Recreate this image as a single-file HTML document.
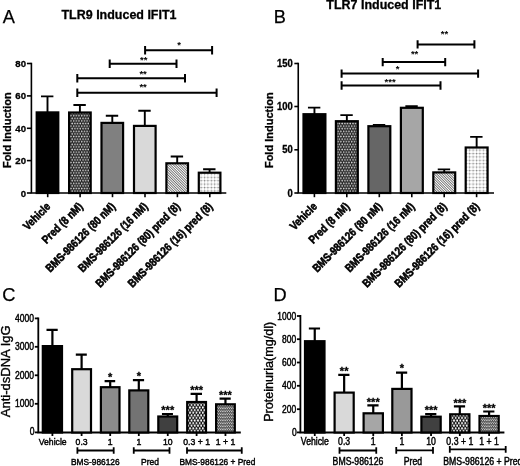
<!DOCTYPE html>
<html><head><meta charset="utf-8"><title>Figure</title>
<style>html,body{margin:0;padding:0;background:#fff}svg{display:block;filter:blur(0.45px)}text{font-family:"Liberation Sans", sans-serif;fill:#000}</style>
</head><body>
<svg width="520" height="466" viewBox="0 0 520 466">
<rect width="520" height="466" fill="#fff"/>
<defs>
<pattern id="pDots" width="2.7" height="5.2" patternUnits="userSpaceOnUse">
 <rect width="2.7" height="5.2" fill="#202020"/>
 <circle cx="0.675" cy="1.3" r="0.92" fill="#d8d8d8"/><circle cx="2.025" cy="3.9" r="0.92" fill="#d8d8d8"/>
</pattern>
<pattern id="pHatch" width="1.8" height="1.8" patternUnits="userSpaceOnUse" patternTransform="rotate(-45)">
 <rect width="1.8" height="1.8" fill="#fff"/><rect width="0.6" height="1.8" fill="#2a2a2a"/>
</pattern>
<pattern id="pGrid" width="3.4" height="3.4" patternUnits="userSpaceOnUse">
 <rect width="3.4" height="3.4" fill="#fff"/><rect width="3.4" height="0.9" fill="#dcdcdc"/><rect width="0.9" height="3.4" fill="#dcdcdc"/><rect x="-0.2" y="-0.2" width="1.3" height="1.3" fill="#808080"/>
</pattern>
<pattern id="pDiam" width="3.2" height="5.2" patternUnits="userSpaceOnUse" x="0.4" y="0.6">
 <rect width="3.2" height="5.2" fill="#0c0c0c"/>
 <circle cx="0.8" cy="1.3" r="1.08" fill="#fff"/><circle cx="2.4" cy="3.9" r="1.08" fill="#fff"/>
</pattern>
<pattern id="pFine" width="2.2" height="3" patternUnits="userSpaceOnUse">
 <rect width="2.2" height="3" fill="#3c3c3c"/>
 <rect x="0" y="0.25" width="1.4" height="0.85" fill="#f0f0f0"/><rect x="1.1" y="1.75" width="1.4" height="0.85" fill="#f0f0f0"/><rect x="-1.1" y="1.75" width="1.4" height="0.85" fill="#f0f0f0"/>
</pattern>
</defs>

<text x="2.70" y="23.20" font-size="18.2" font-weight="normal" text-anchor="start" stroke="#000" stroke-width="0.25">A</text>
<text x="61.50" y="18.90" font-size="12.5" font-weight="bold" text-anchor="start" textLength="115.0" lengthAdjust="spacingAndGlyphs" stroke="#000" stroke-width="0.3">TLR9 Induced IFIT1</text>
<path d="M31.40 62.70V193.00H226.30" stroke="#000" stroke-width="1.6" fill="none" stroke-linejoin="miter"/>
<path d="M26.90 63.50H31.40" stroke="#000" stroke-width="1.6"/>
<text transform="translate(26.00 66.81) rotate(0) scale(1.0 1)" font-size="9.6" font-weight="bold" text-anchor="end" stroke="#000" stroke-width="0.3">80</text>
<path d="M26.90 95.90H31.40" stroke="#000" stroke-width="1.6"/>
<text transform="translate(26.00 99.21) rotate(0) scale(1.0 1)" font-size="9.6" font-weight="bold" text-anchor="end" stroke="#000" stroke-width="0.3">60</text>
<path d="M26.90 128.30H31.40" stroke="#000" stroke-width="1.6"/>
<text transform="translate(26.00 131.61) rotate(0) scale(1.0 1)" font-size="9.6" font-weight="bold" text-anchor="end" stroke="#000" stroke-width="0.3">40</text>
<path d="M26.90 160.60H31.40" stroke="#000" stroke-width="1.6"/>
<text transform="translate(26.00 163.91) rotate(0) scale(1.0 1)" font-size="9.6" font-weight="bold" text-anchor="end" stroke="#000" stroke-width="0.3">20</text>
<path d="M26.90 193.00H31.40" stroke="#000" stroke-width="1.6"/>
<text transform="translate(26.00 196.61) rotate(0) scale(1.0 1)" font-size="9.6" font-weight="bold" text-anchor="end" stroke="#000" stroke-width="0.3">0</text>
<text transform="translate(11.00 130.20) rotate(-90) scale(1.0 1)" font-size="11" font-weight="bold" text-anchor="middle" stroke="#000" stroke-width="0.3">Fold Induction</text>
<path d="M47.50 112.30V96.40M41.00 96.40H53.40" stroke="#000" stroke-width="1.9" fill="none"/>
<rect x="36.70" y="112.40" width="21.60" height="80.60" fill="#000" stroke="#000" stroke-width="2.2"/>
<path d="M47.70 193.00V197.20" stroke="#000" stroke-width="1.6"/>
<text transform="translate(51.10 207.30) rotate(-45) scale(0.835 1)" font-size="11.5" font-weight="bold" text-anchor="end" stroke="#000" stroke-width="0.6">Vehicle</text>
<path d="M79.90 112.40V105.00M73.40 105.00H85.80" stroke="#000" stroke-width="1.9" fill="none"/>
<rect x="69.10" y="112.50" width="21.60" height="80.50" fill="url(#pDots)" stroke="#000" stroke-width="2.2"/>
<path d="M80.10 193.00V197.20" stroke="#000" stroke-width="1.6"/>
<text transform="translate(83.50 207.30) rotate(-45) scale(0.835 1)" font-size="11.5" font-weight="bold" text-anchor="end" stroke="#000" stroke-width="0.6">Pred (8 nM)</text>
<path d="M112.30 122.80V115.70M105.80 115.70H118.20" stroke="#000" stroke-width="1.9" fill="none"/>
<rect x="101.50" y="122.90" width="21.60" height="70.10" fill="#808080" stroke="#000" stroke-width="2.2"/>
<path d="M112.50 193.00V197.20" stroke="#000" stroke-width="1.6"/>
<text transform="translate(115.90 207.30) rotate(-45) scale(0.835 1)" font-size="11.5" font-weight="bold" text-anchor="end" stroke="#000" stroke-width="0.6">BMS-986126 (80 nM)</text>
<path d="M144.80 125.80V110.80M138.30 110.80H150.70" stroke="#000" stroke-width="1.9" fill="none"/>
<rect x="134.00" y="125.90" width="21.60" height="67.10" fill="#d9d9d9" stroke="#000" stroke-width="2.2"/>
<path d="M145.00 193.00V197.20" stroke="#000" stroke-width="1.6"/>
<text transform="translate(148.40 207.30) rotate(-45) scale(0.835 1)" font-size="11.5" font-weight="bold" text-anchor="end" stroke="#000" stroke-width="0.6">BMS-986126 (16 nM)</text>
<path d="M177.20 163.20V156.50M170.70 156.50H183.10" stroke="#000" stroke-width="1.9" fill="none"/>
<rect x="166.40" y="163.30" width="21.60" height="29.70" fill="url(#pHatch)" stroke="#000" stroke-width="2.2"/>
<path d="M177.40 193.00V197.20" stroke="#000" stroke-width="1.6"/>
<text transform="translate(180.80 207.30) rotate(-45) scale(0.835 1)" font-size="11.5" font-weight="bold" text-anchor="end" stroke="#000" stroke-width="0.6">BMS-986126 (80) pred (8)</text>
<path d="M209.60 172.60V169.20M203.10 169.20H215.50" stroke="#000" stroke-width="1.9" fill="none"/>
<rect x="198.80" y="172.70" width="21.60" height="20.30" fill="url(#pGrid)" stroke="#000" stroke-width="2.2"/>
<path d="M209.80 193.00V197.20" stroke="#000" stroke-width="1.6"/>
<text transform="translate(213.20 207.30) rotate(-45) scale(0.835 1)" font-size="11.5" font-weight="bold" text-anchor="end" stroke="#000" stroke-width="0.6">BMS-986126 (16) pred (8)</text>
<path d="M145.10 50.20H212.10M145.10 46.00V54.40M212.10 46.00V54.40" stroke="#000" stroke-width="2.0" fill="none"/>
<text x="179.00" y="48.24" font-size="9.5" font-weight="bold" text-anchor="middle" >*</text>
<path d="M109.70 63.70H176.50M109.70 59.50V67.90M176.50 59.50V67.90" stroke="#000" stroke-width="2.0" fill="none"/>
<text x="143.70" y="63.24" font-size="9.5" font-weight="bold" text-anchor="middle" >**</text>
<path d="M77.30 78.20H185.00M77.30 74.00V82.40M185.00 74.00V82.40" stroke="#000" stroke-width="2.0" fill="none"/>
<text x="143.10" y="76.75" font-size="9.5" font-weight="bold" text-anchor="middle" >**</text>
<path d="M77.30 92.70H216.60M77.30 88.50V96.90M216.60 88.50V96.90" stroke="#000" stroke-width="2.0" fill="none"/>
<text x="143.10" y="90.34" font-size="9.5" font-weight="bold" text-anchor="middle" >**</text>
<text x="273.70" y="23.20" font-size="18.2" font-weight="normal" text-anchor="start" stroke="#000" stroke-width="0.25">B</text>
<text x="326.30" y="9.20" font-size="12.5" font-weight="bold" text-anchor="start" textLength="115.0" lengthAdjust="spacingAndGlyphs" stroke="#000" stroke-width="0.3">TLR7 Induced IFIT1</text>
<path d="M298.25 62.70V193.00H494.00" stroke="#000" stroke-width="1.6" fill="none" stroke-linejoin="miter"/>
<path d="M294.35 63.50H298.25" stroke="#000" stroke-width="1.6"/>
<text transform="translate(292.85 66.60) rotate(0) scale(0.945 1)" font-size="10" font-weight="bold" text-anchor="end" stroke="#000" stroke-width="0.3">150</text>
<path d="M294.35 106.50H298.25" stroke="#000" stroke-width="1.6"/>
<text transform="translate(292.85 109.60) rotate(0) scale(0.945 1)" font-size="10" font-weight="bold" text-anchor="end" stroke="#000" stroke-width="0.3">100</text>
<path d="M294.35 149.80H298.25" stroke="#000" stroke-width="1.6"/>
<text transform="translate(292.85 152.90) rotate(0) scale(0.945 1)" font-size="10" font-weight="bold" text-anchor="end" stroke="#000" stroke-width="0.3">50</text>
<path d="M294.35 193.00H298.25" stroke="#000" stroke-width="1.6"/>
<text transform="translate(292.85 197.00) rotate(0) scale(0.945 1)" font-size="10" font-weight="bold" text-anchor="end" stroke="#000" stroke-width="0.3">0</text>
<text transform="translate(272.50 130.20) rotate(-90) scale(1.0 1)" font-size="11" font-weight="bold" text-anchor="middle" stroke="#000" stroke-width="0.3">Fold Induction</text>
<path d="M314.45 114.10V107.60M307.95 107.60H320.35" stroke="#000" stroke-width="1.9" fill="none"/>
<rect x="303.50" y="114.20" width="21.90" height="78.80" fill="#000" stroke="#000" stroke-width="2.2"/>
<path d="M314.40 193.00V197.20" stroke="#000" stroke-width="1.6"/>
<text transform="translate(317.80 207.30) rotate(-45) scale(0.835 1)" font-size="11.5" font-weight="bold" text-anchor="end" stroke="#000" stroke-width="0.6">Vehicle</text>
<path d="M346.85 121.10V115.10M340.35 115.10H352.75" stroke="#000" stroke-width="1.9" fill="none"/>
<rect x="335.90" y="121.20" width="21.90" height="71.80" fill="url(#pDots)" stroke="#000" stroke-width="2.2"/>
<path d="M346.80 193.00V197.20" stroke="#000" stroke-width="1.6"/>
<text transform="translate(350.20 207.30) rotate(-45) scale(0.835 1)" font-size="11.5" font-weight="bold" text-anchor="end" stroke="#000" stroke-width="0.6">Pred (8 nM)</text>
<path d="M379.35 126.10V124.90M372.85 124.90H385.25" stroke="#000" stroke-width="1.9" fill="none"/>
<rect x="368.40" y="126.20" width="21.90" height="66.80" fill="#666" stroke="#000" stroke-width="2.2"/>
<path d="M379.30 193.00V197.20" stroke="#000" stroke-width="1.6"/>
<text transform="translate(382.70 207.30) rotate(-45) scale(0.835 1)" font-size="11.5" font-weight="bold" text-anchor="end" stroke="#000" stroke-width="0.6">BMS-986126 (80 nM)</text>
<path d="M411.85 107.70V106.20M405.35 106.20H417.75" stroke="#000" stroke-width="1.9" fill="none"/>
<rect x="400.90" y="107.80" width="21.90" height="85.20" fill="#a6a6a6" stroke="#000" stroke-width="2.2"/>
<path d="M411.80 193.00V197.20" stroke="#000" stroke-width="1.6"/>
<text transform="translate(415.20 207.30) rotate(-45) scale(0.835 1)" font-size="11.5" font-weight="bold" text-anchor="end" stroke="#000" stroke-width="0.6">BMS-986126 (16 nM)</text>
<path d="M444.25 172.30V169.40M437.75 169.40H450.15" stroke="#000" stroke-width="1.9" fill="none"/>
<rect x="433.30" y="172.40" width="21.90" height="20.60" fill="url(#pHatch)" stroke="#000" stroke-width="2.2"/>
<path d="M444.20 193.00V197.20" stroke="#000" stroke-width="1.6"/>
<text transform="translate(447.60 207.30) rotate(-45) scale(0.835 1)" font-size="11.5" font-weight="bold" text-anchor="end" stroke="#000" stroke-width="0.6">BMS-986126 (80) pred (8)</text>
<path d="M476.65 147.40V136.90M470.15 136.90H482.55" stroke="#000" stroke-width="1.9" fill="none"/>
<rect x="465.70" y="147.50" width="21.90" height="45.50" fill="url(#pGrid)" stroke="#000" stroke-width="2.2"/>
<path d="M476.60 193.00V197.20" stroke="#000" stroke-width="1.6"/>
<text transform="translate(480.00 207.30) rotate(-45) scale(0.835 1)" font-size="11.5" font-weight="bold" text-anchor="end" stroke="#000" stroke-width="0.6">BMS-986126 (16) pred (8)</text>
<path d="M417.60 44.40H474.40M417.60 40.20V48.60M474.40 40.20V48.60" stroke="#000" stroke-width="2.0" fill="none"/>
<text x="444.50" y="37.45" font-size="9.5" font-weight="bold" text-anchor="middle" >**</text>
<path d="M382.70 62.10H445.20M382.70 57.90V66.30M445.20 57.90V66.30" stroke="#000" stroke-width="2.0" fill="none"/>
<text x="414.60" y="57.24" font-size="9.5" font-weight="bold" text-anchor="middle" >**</text>
<path d="M341.60 73.60H478.10M341.60 69.40V77.80M478.10 69.40V77.80" stroke="#000" stroke-width="2.0" fill="none"/>
<text x="397.60" y="71.84" font-size="9.5" font-weight="bold" text-anchor="middle" >*</text>
<path d="M341.60 85.50H440.50M341.60 81.30V89.70M440.50 81.30V89.70" stroke="#000" stroke-width="2.0" fill="none"/>
<text x="390.10" y="84.75" font-size="9.5" font-weight="bold" text-anchor="middle" >***</text>
<text x="2.20" y="301.20" font-size="18.2" font-weight="normal" text-anchor="start" stroke="#000" stroke-width="0.25">C</text>
<path d="M38.30 317.50V432.50H240.80" stroke="#000" stroke-width="1.8" fill="none" stroke-linejoin="miter"/>
<path d="M34.80 318.40H38.30" stroke="#000" stroke-width="1.8"/>
<text transform="translate(34.00 321.97) rotate(0) scale(0.84 1)" font-size="10.2" font-weight="normal" text-anchor="end" stroke="#000" stroke-width="0.45">4000</text>
<path d="M34.80 346.80H38.30" stroke="#000" stroke-width="1.8"/>
<text transform="translate(34.00 350.37) rotate(0) scale(0.84 1)" font-size="10.2" font-weight="normal" text-anchor="end" stroke="#000" stroke-width="0.45">3000</text>
<path d="M34.80 375.30H38.30" stroke="#000" stroke-width="1.8"/>
<text transform="translate(34.00 378.87) rotate(0) scale(0.84 1)" font-size="10.2" font-weight="normal" text-anchor="end" stroke="#000" stroke-width="0.45">2000</text>
<path d="M34.80 403.80H38.30" stroke="#000" stroke-width="1.8"/>
<text transform="translate(34.00 407.37) rotate(0) scale(0.84 1)" font-size="10.2" font-weight="normal" text-anchor="end" stroke="#000" stroke-width="0.45">1000</text>
<path d="M34.80 432.40H38.30" stroke="#000" stroke-width="1.8"/>
<text transform="translate(34.40 435.37) rotate(0) scale(0.84 1)" font-size="10.2" font-weight="normal" text-anchor="end" stroke="#000" stroke-width="0.45">0</text>
<text transform="translate(10.20 371.30) rotate(-90) scale(1.0 1)" font-size="12" font-weight="normal" text-anchor="middle" textLength="92" lengthAdjust="spacingAndGlyphs" stroke="#000" stroke-width="0.35">Anti-dsDNA IgG</text>
<path d="M52.40 346.00V329.90M46.50 329.90H57.70" stroke="#000" stroke-width="2.2" fill="none"/>
<rect x="42.80" y="346.10" width="19.20" height="86.40" fill="#000" stroke="#000" stroke-width="2.2"/>
<path d="M52.40 432.50V436.00" stroke="#000" stroke-width="1.8"/>
<text transform="translate(52.70 444.60) rotate(0) scale(0.885 1)" font-size="9.8" font-weight="normal" text-anchor="middle" stroke="#000" stroke-width="0.45">Vehicle</text>
<path d="M81.60 369.10V354.70M75.80 354.70H86.80" stroke="#000" stroke-width="2.2" fill="none"/>
<rect x="72.20" y="369.20" width="18.80" height="63.30" fill="#d9d9d9" stroke="#000" stroke-width="2.2"/>
<path d="M81.60 432.50V436.00" stroke="#000" stroke-width="1.8"/>
<text transform="translate(81.60 444.60) rotate(0) scale(0.885 1)" font-size="9.8" font-weight="normal" text-anchor="middle" stroke="#000" stroke-width="0.45">0.3</text>
<path d="M110.20 387.10V381.20M104.60 381.20H115.20" stroke="#000" stroke-width="2.2" fill="none"/>
<rect x="100.90" y="387.20" width="18.60" height="45.30" fill="#8c8c8c" stroke="#000" stroke-width="2.2"/>
<path d="M110.20 432.50V436.00" stroke="#000" stroke-width="1.8"/>
<text transform="translate(110.20 444.60) rotate(0) scale(0.885 1)" font-size="9.8" font-weight="normal" text-anchor="middle" stroke="#000" stroke-width="0.45">1</text>
<text x="110.20" y="381.01" font-size="11" font-weight="bold" text-anchor="middle" stroke="#000" stroke-width="0.3">*</text>
<path d="M138.80 390.30V380.20M132.90 380.20H144.10" stroke="#000" stroke-width="2.2" fill="none"/>
<rect x="129.30" y="390.40" width="19.00" height="42.10" fill="#737373" stroke="#000" stroke-width="2.2"/>
<path d="M138.80 432.50V436.00" stroke="#000" stroke-width="1.8"/>
<text transform="translate(138.80 444.60) rotate(0) scale(0.885 1)" font-size="9.8" font-weight="normal" text-anchor="middle" stroke="#000" stroke-width="0.45">1</text>
<text x="138.80" y="380.01" font-size="11" font-weight="bold" text-anchor="middle" stroke="#000" stroke-width="0.3">*</text>
<path d="M167.75 416.40V414.00M161.95 414.00H172.95" stroke="#000" stroke-width="2.2" fill="none"/>
<rect x="158.30" y="416.50" width="18.90" height="16.00" fill="#404040" stroke="#000" stroke-width="2.2"/>
<path d="M167.75 432.50V436.00" stroke="#000" stroke-width="1.8"/>
<text transform="translate(167.75 444.60) rotate(0) scale(0.885 1)" font-size="9.8" font-weight="normal" text-anchor="middle" stroke="#000" stroke-width="0.45">10</text>
<text x="167.75" y="414.31" font-size="11" font-weight="bold" text-anchor="middle" stroke="#000" stroke-width="0.3">***</text>
<path d="M196.60 401.90V393.85M190.60 393.85H202.00" stroke="#000" stroke-width="2.2" fill="none"/>
<rect x="187.20" y="402.00" width="18.80" height="30.50" fill="url(#pDiam)" stroke="#000" stroke-width="2.2"/>
<path d="M196.60 432.50V436.00" stroke="#000" stroke-width="1.8"/>
<text transform="translate(196.60 444.60) rotate(0) scale(0.885 1)" font-size="9.8" font-weight="normal" text-anchor="middle" stroke="#000" stroke-width="0.45">0.3 + 1</text>
<text x="196.60" y="394.31" font-size="11" font-weight="bold" text-anchor="middle" stroke="#000" stroke-width="0.3">***</text>
<path d="M225.45 404.20V398.60M219.55 398.60H230.75" stroke="#000" stroke-width="2.2" fill="none"/>
<rect x="216.10" y="404.30" width="18.70" height="28.20" fill="url(#pFine)" stroke="#000" stroke-width="2.2"/>
<path d="M225.45 432.50V436.00" stroke="#000" stroke-width="1.8"/>
<text transform="translate(225.45 444.60) rotate(0) scale(0.885 1)" font-size="9.8" font-weight="normal" text-anchor="middle" stroke="#000" stroke-width="0.45">1 + 1</text>
<text x="225.45" y="398.81" font-size="11" font-weight="bold" text-anchor="middle" stroke="#000" stroke-width="0.3">***</text>
<path d="M77.40 450.50H113.70M77.40 447.20V453.80M113.70 447.20V453.80" stroke="#000" stroke-width="1.8" fill="none"/>
<text transform="translate(95.30 464.80) rotate(0) scale(0.853 1)" font-size="9.8" font-weight="normal" text-anchor="middle" stroke="#000" stroke-width="0.45">BMS-986126</text>
<path d="M133.75 450.50H169.50M133.75 447.20V453.80M169.50 447.20V453.80" stroke="#000" stroke-width="1.8" fill="none"/>
<text transform="translate(150.00 464.80) rotate(0) scale(0.865 1)" font-size="9.8" font-weight="normal" text-anchor="middle" stroke="#000" stroke-width="0.45">Pred</text>
<path d="M187.00 450.50H241.75M187.00 447.20V453.80M241.75 447.20V453.80" stroke="#000" stroke-width="1.8" fill="none"/>
<text transform="translate(179.50 464.80) rotate(0) scale(0.853 1)" font-size="9.8" font-weight="normal" text-anchor="start" stroke="#000" stroke-width="0.45">BMS-986126 + Pred</text>
<text x="273.60" y="300.90" font-size="18.2" font-weight="normal" text-anchor="start" stroke="#000" stroke-width="0.25">D</text>
<path d="M300.40 315.10V432.50H504.40" stroke="#000" stroke-width="1.8" fill="none" stroke-linejoin="miter"/>
<path d="M296.90 316.00H300.40" stroke="#000" stroke-width="1.8"/>
<text transform="translate(296.10 319.57) rotate(0) scale(0.83 1)" font-size="10.2" font-weight="normal" text-anchor="end" stroke="#000" stroke-width="0.45">1000</text>
<path d="M296.90 339.20H300.40" stroke="#000" stroke-width="1.8"/>
<text transform="translate(296.10 342.77) rotate(0) scale(0.83 1)" font-size="10.2" font-weight="normal" text-anchor="end" stroke="#000" stroke-width="0.45">800</text>
<path d="M296.90 362.50H300.40" stroke="#000" stroke-width="1.8"/>
<text transform="translate(296.10 366.07) rotate(0) scale(0.83 1)" font-size="10.2" font-weight="normal" text-anchor="end" stroke="#000" stroke-width="0.45">600</text>
<path d="M296.90 385.80H300.40" stroke="#000" stroke-width="1.8"/>
<text transform="translate(296.10 389.37) rotate(0) scale(0.83 1)" font-size="10.2" font-weight="normal" text-anchor="end" stroke="#000" stroke-width="0.45">400</text>
<path d="M296.90 409.20H300.40" stroke="#000" stroke-width="1.8"/>
<text transform="translate(296.10 412.77) rotate(0) scale(0.83 1)" font-size="10.2" font-weight="normal" text-anchor="end" stroke="#000" stroke-width="0.45">200</text>
<path d="M296.90 432.40H300.40" stroke="#000" stroke-width="1.8"/>
<text transform="translate(296.60 436.37) rotate(0) scale(0.83 1)" font-size="10.2" font-weight="normal" text-anchor="end" stroke="#000" stroke-width="0.45">0</text>
<text transform="translate(272.60 371.80) rotate(-90) scale(1.0 1)" font-size="12.2" font-weight="normal" text-anchor="middle" textLength="100" lengthAdjust="spacingAndGlyphs" stroke="#000" stroke-width="0.35">Proteinuria(mg/dl)</text>
<path d="M314.75 341.10V328.50M308.85 328.50H320.05" stroke="#000" stroke-width="2.2" fill="none"/>
<rect x="305.00" y="341.20" width="19.50" height="91.30" fill="#000" stroke="#000" stroke-width="2.2"/>
<path d="M314.75 432.50V436.00" stroke="#000" stroke-width="1.8"/>
<text transform="translate(314.85 444.70) rotate(0) scale(0.855 1)" font-size="10.2" font-weight="normal" text-anchor="middle" stroke="#000" stroke-width="0.45">Vehicle</text>
<path d="M344.15 392.50V374.80M338.25 374.80H349.45" stroke="#000" stroke-width="2.2" fill="none"/>
<rect x="334.60" y="392.60" width="19.10" height="39.90" fill="#d9d9d9" stroke="#000" stroke-width="2.2"/>
<path d="M344.15 432.50V436.00" stroke="#000" stroke-width="1.8"/>
<text transform="translate(344.15 444.70) rotate(0) scale(0.855 1)" font-size="10.2" font-weight="normal" text-anchor="middle" stroke="#000" stroke-width="0.45">0.3</text>
<text x="344.15" y="375.01" font-size="11" font-weight="bold" text-anchor="middle" stroke="#000" stroke-width="0.3">**</text>
<path d="M373.25 413.20V405.40M367.35 405.40H378.55" stroke="#000" stroke-width="2.2" fill="none"/>
<rect x="363.60" y="413.30" width="19.30" height="19.20" fill="#a6a6a6" stroke="#000" stroke-width="2.2"/>
<path d="M373.25 432.50V436.00" stroke="#000" stroke-width="1.8"/>
<text transform="translate(373.25 444.70) rotate(0) scale(0.855 1)" font-size="10.2" font-weight="normal" text-anchor="middle" stroke="#000" stroke-width="0.45">1</text>
<text x="373.25" y="406.11" font-size="11" font-weight="bold" text-anchor="middle" stroke="#000" stroke-width="0.3">***</text>
<path d="M401.90 388.80V372.70M396.00 372.70H407.20" stroke="#000" stroke-width="2.2" fill="none"/>
<rect x="392.30" y="388.90" width="19.20" height="43.60" fill="#999" stroke="#000" stroke-width="2.2"/>
<path d="M401.90 432.50V436.00" stroke="#000" stroke-width="1.8"/>
<text transform="translate(401.90 444.70) rotate(0) scale(0.855 1)" font-size="10.2" font-weight="normal" text-anchor="middle" stroke="#000" stroke-width="0.45">1</text>
<text x="401.90" y="372.21" font-size="11" font-weight="bold" text-anchor="middle" stroke="#000" stroke-width="0.3">*</text>
<path d="M431.05 416.60V414.20M425.15 414.20H436.35" stroke="#000" stroke-width="2.2" fill="none"/>
<rect x="421.40" y="416.70" width="19.30" height="15.80" fill="#404040" stroke="#000" stroke-width="2.2"/>
<path d="M431.05 432.50V436.00" stroke="#000" stroke-width="1.8"/>
<text transform="translate(431.05 444.70) rotate(0) scale(0.855 1)" font-size="10.2" font-weight="normal" text-anchor="middle" stroke="#000" stroke-width="0.45">10</text>
<text x="431.05" y="414.31" font-size="11" font-weight="bold" text-anchor="middle" stroke="#000" stroke-width="0.3">***</text>
<path d="M459.80 414.20V406.40M453.90 406.40H465.10" stroke="#000" stroke-width="2.2" fill="none"/>
<rect x="450.20" y="414.30" width="19.20" height="18.20" fill="url(#pDiam)" stroke="#000" stroke-width="2.2"/>
<path d="M459.80 432.50V436.00" stroke="#000" stroke-width="1.8"/>
<text transform="translate(459.80 444.70) rotate(0) scale(0.855 1)" font-size="10.2" font-weight="normal" text-anchor="middle" stroke="#000" stroke-width="0.45">0.3 + 1</text>
<text x="459.80" y="407.41" font-size="11" font-weight="bold" text-anchor="middle" stroke="#000" stroke-width="0.3">***</text>
<path d="M489.10 415.90V411.50M483.20 411.50H494.40" stroke="#000" stroke-width="2.2" fill="none"/>
<rect x="479.50" y="416.00" width="19.20" height="16.50" fill="url(#pFine)" stroke="#000" stroke-width="2.2"/>
<path d="M489.10 432.50V436.00" stroke="#000" stroke-width="1.8"/>
<text transform="translate(489.10 444.70) rotate(0) scale(0.855 1)" font-size="10.2" font-weight="normal" text-anchor="middle" stroke="#000" stroke-width="0.45">1 + 1</text>
<text x="489.10" y="412.41" font-size="11" font-weight="bold" text-anchor="middle" stroke="#000" stroke-width="0.3">***</text>
<path d="M339.50 450.50H376.25M339.50 447.20V453.80M376.25 447.20V453.80" stroke="#000" stroke-width="1.8" fill="none"/>
<text transform="translate(358.00 464.70) rotate(0) scale(0.855 1)" font-size="10.2" font-weight="normal" text-anchor="middle" stroke="#000" stroke-width="0.45">BMS-986126</text>
<path d="M396.25 450.40H433.00M396.25 447.10V453.70M433.00 447.10V453.70" stroke="#000" stroke-width="1.8" fill="none"/>
<text transform="translate(413.00 464.70) rotate(0) scale(0.855 1)" font-size="10.2" font-weight="normal" text-anchor="middle" stroke="#000" stroke-width="0.45">Pred</text>
<path d="M449.80 449.40H505.70M449.80 446.10V452.70M505.70 446.10V452.70" stroke="#000" stroke-width="1.8" fill="none"/>
<text transform="translate(443.30 464.60) rotate(0) scale(0.855 1)" font-size="10.2" font-weight="normal" text-anchor="start" stroke="#000" stroke-width="0.45">BMS-986126 + Pred</text>
</svg>
</body></html>
